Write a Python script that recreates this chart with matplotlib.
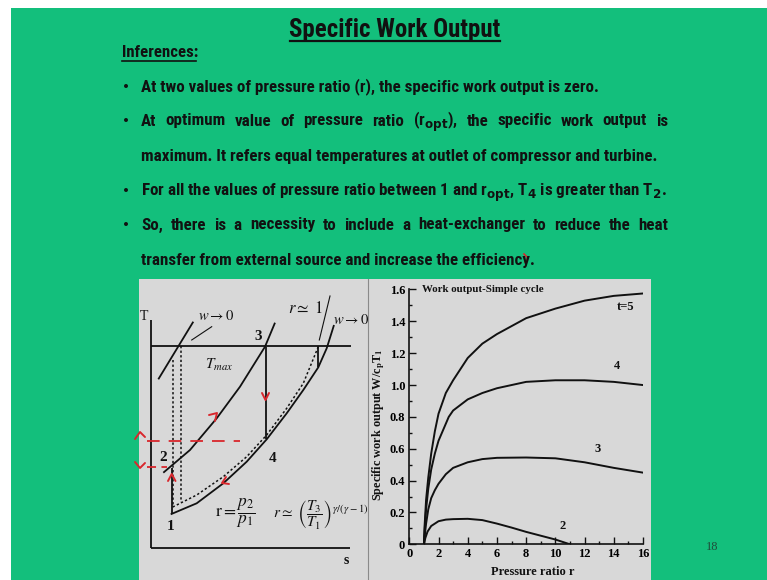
import matplotlib
matplotlib.use("Agg")
import matplotlib.pyplot as plt
from matplotlib.patches import Rectangle
from matplotlib.ticker import MultipleLocator, FixedLocator, FixedFormatter

GREEN = "#13bf7c"
PANEL = "#d8d8d8"
INK = "#111111"
RED = "#d9262c"
# narrow faces first; whichever is installed gets used
SANS = ["Liberation Sans Narrow", "Roboto Condensed", "Open Sans Condensed",
        "Noto Sans Condensed", "DejaVu Sans Condensed", "Liberation Sans", "DejaVu Sans"]
SERIF = ["Liberation Serif", "DejaVu Serif"]

# ---- slide text ----
title = "Specific Work Output"
heading = "Inferences:"
line_texts = [
    "At two values of pressure ratio (r), the specific work output is zero.",
    "At optimum value of pressure ratio (r$_{\\mathbf{opt}}$), the specific work output is",
    "maximum. It refers equal temperatures at outlet of compressor and turbine.",
    "For all the values of pressure ratio between 1 and r$_{\\mathbf{opt}}$, T$_\\mathbf{4}$ is greater than T$_\\mathbf{2}$.",
    "So, there is a necessity to include a heat-exchanger to reduce the heat",
    "transfer from external source and increase the efficiency.",
]
line_bullet = [True, True, False, True, True, False]
line_justify = [False, True, False, False, True, False]
page_no = "18"

# ---- work output vs pressure ratio, one series per temperature ratio t ----
r_t5 = [1.0, 1.05, 1.15, 1.3, 1.5, 1.75, 2, 2.5, 3, 4, 5, 6, 8, 10, 12, 14, 16]
w_t5 = [0, 0.12, 0.28, 0.42, 0.57, 0.71, 0.82, 0.95, 1.03, 1.17, 1.26, 1.32, 1.42, 1.48, 1.53, 1.56, 1.575]
r_t4 = [1.0, 1.05, 1.15, 1.3, 1.5, 1.75, 2, 2.7, 3, 4, 5, 6, 8, 10, 12, 14, 16]
w_t4 = [0, 0.09, 0.22, 0.35, 0.47, 0.57, 0.65, 0.80, 0.84, 0.91, 0.95, 0.98, 1.02, 1.03, 1.03, 1.02, 1.0]
r_t3 = [1.0, 1.05, 1.15, 1.3, 1.5, 1.75, 2, 2.5, 3, 4, 5, 6, 8, 10, 12, 14, 16]
w_t3 = [0, 0.05, 0.13, 0.22, 0.29, 0.34, 0.38, 0.44, 0.48, 0.515, 0.535, 0.543, 0.545, 0.54, 0.515, 0.48, 0.45]
r_t2 = [1.0, 1.1, 1.25, 1.5, 2, 2.5, 3, 4, 5, 6, 7, 8, 9, 10, 11]
w_t2 = [0, 0.04, 0.08, 0.115, 0.145, 0.155, 0.158, 0.16, 0.152, 0.13, 0.105, 0.078, 0.054, 0.03, 0.0]
curve_labels = ["t=5", "4", "3", "2"]
label_r = [14.8, 14.2, 12.9, 10.5]
label_w = [1.49, 1.12, 0.60, 0.115]
y_ticks = [0, 0.2, 0.4, 0.6, 0.8, 1.0, 1.2, 1.4, 1.6]
y_ticklabels = ["0", "0.2", "0.4", "0.6", "0.8", "1.0", "1.2", "1.4", "1.6"]

# ---- T-s sketch, in slide pixel units ----
iso_hi_s = [163.3, 190.0, 216.7, 240.0, 265.0, 275.0]
iso_hi_T = [472.7, 450.0, 418.3, 386.7, 346.7, 322.7]
iso_lo_s = [170.7, 196.7, 223.3, 246.7, 266.7, 286.7, 303.3, 318.3, 326.7, 334.0]
iso_lo_T = [514.3, 503.3, 483.3, 461.7, 439.3, 413.3, 390.0, 367.3, 348.3, 325.0]
iso_dot_s = [172.7, 196.7, 223.3, 246.7, 266.7, 286.7, 303.3, 318.3]
iso_dot_T = [507.0, 495.0, 476.7, 456.7, 435.0, 408.3, 383.3, 346.7]
iso_w0_s = [158.3, 193.3]
iso_w0_T = [379.3, 321.7]

fig = plt.figure(figsize=(7.67, 5.8), dpi=100)
bg = fig.add_axes([0, 0, 1, 1])
bg.set_xlim(0, 767)
bg.set_ylim(580, 0)
bg.axis("off")
renderer = fig.canvas.get_renderer()

bg.add_patch(Rectangle((10.5, 8), 757, 572, color=GREEN, lw=0))
bg.add_patch(Rectangle((139, 279), 512, 301, color=PANEL, lw=0))
bg.plot([368, 368], [279, 580], color="#8a8a8a", lw=0.8)

sans = dict(family=SANS, weight="bold", stretch="condensed", color=INK)


def width_of(s, size, **kw):
    t = bg.text(0, 0, s, fontsize=size, **kw)
    w = t.get_window_extent(renderer).width
    t.remove()
    return w


# title and heading, underlined
tsize = 20 * 210 / width_of(title, 20, **sans)
bg.text(395, 37, title, fontsize=tsize, ha="center", va="baseline", **sans)
bg.plot([290, 500], [41, 41], color=INK, lw=1.6)
hsize = 20 * 76 / width_of(heading, 20, **sans)
bg.text(122, 57, heading, fontsize=hsize, va="baseline", **sans)
bg.plot([122, 196], [60.5, 60.5], color=INK, lw=1.2)

# bullet lines
bsize = 20 * 457 / width_of(line_texts[0], 20, **sans)
baselines = [91.5, 125.5, 161.5, 195.5, 229.5, 264.5]
x0, x1 = 141, 668
for s, has_dot, just, yb in zip(line_texts, line_bullet, line_justify, baselines):
    if has_dot:
        bg.text(126, yb - 5, "\u2022", fontsize=bsize * 0.8, family="DejaVu Sans",
                color=INK, va="center", ha="center")
    if not just:
        bg.text(x0, yb, s, fontsize=bsize, va="baseline", **sans)
        continue
    words = s.split(" ")
    texts = [bg.text(0, yb, w, fontsize=bsize, va="baseline", **sans) for w in words]
    widths = [t.get_window_extent(renderer).width for t in texts]
    gap = ((x1 - x0) - sum(widths)) / (len(words) - 1)
    x = x0
    for t, w in zip(texts, widths):
        t.set_x(x)
        x += w + gap

# pen mark after "efficiency"
bg.plot([524, 528, 525], [254, 258, 262], color=RED, lw=1.2)

bg.text(712, 547, page_no, fontsize=9, family=SERIF, color="#1f4d3a",
        ha="center", va="center")

# ---- T-s diagram ----
k = dict(color=INK, lw=1.3, solid_capstyle="butt")
dotted = dict(color=INK, lw=1.1, ls=(0, (1.5, 1.5)))
bg.plot([150.7, 150.7], [320, 547.7], **k)
bg.plot([150.7, 350], [547.7, 547.7], **k)
bg.plot([150.7, 350.7], [345.7, 345.7], **k)
bg.plot(iso_hi_s, iso_hi_T, **k)
bg.plot(iso_lo_s, iso_lo_T, **k)
bg.plot(iso_w0_s, iso_w0_T, **k)
bg.plot(iso_dot_s, iso_dot_T, **dotted)
bg.plot([171.7, 171.7], [467.5, 514.0], **k)
bg.plot([265.5, 265.5], [346.7, 439.3], **k)
bg.plot([318.3, 318.3], [345.7, 367.3], **k)
bg.plot([172.7, 172.7], [360, 507], **dotted)
bg.plot([180.7, 180.7], [345.7, 501.7], **dotted)
bg.plot([191.7, 211.7], [340, 326.7], color=INK, lw=0.8)
bg.plot([319.3, 330], [340, 296], color=INK, lw=0.8)

m = dict(math_fontfamily="stix", color=INK, ha="center", va="center")
bg.text(143.5, 316, "T", fontsize=10, family=SERIF, color=INK, ha="center", va="center")
bg.text(346.5, 561, "s", fontsize=10, family=SERIF, weight="bold", color=INK,
        ha="center", va="center")
bg.text(216.5, 316, "$w \\rightarrow 0$", fontsize=10.5, **m)
bg.text(351, 319.5, "$w \\rightarrow 0$", fontsize=10.5, **m)
bg.text(306, 308, "$r \\simeq\\ 1$", fontsize=12, **m)
bg.text(219, 365, "$T_{max}$", fontsize=11, **m)
for lab, sx, ty in zip(["1", "2", "3", "4"], [171, 162.7, 258.3, 272.7],
                       [527, 457.3, 336.7, 458.3]):
    bg.text(sx, ty, lab, fontsize=11, family=SERIF, weight="bold", color=INK,
            ha="center", va="center")
bg.text(235, 513, "$\\mathrm{r} = \\dfrac{p_2}{p_1}$", fontsize=12.5, **m)
bg.text(321, 516, "$r \\simeq\\ \\left(\\dfrac{T_3}{T_1}\\right)^{\\gamma/(\\gamma-1)}$",
        fontsize=11, **m)

# red pen annotations
rk = dict(color=RED, lw=1.4, solid_capstyle="round")
bg.plot([146.7, 240], [441.2, 441.2], color=RED, lw=1.3, ls=(0, (7, 5)))
bg.plot([146.7, 167], [467, 467], color=RED, lw=1.3, ls=(0, (5, 3)))
chevrons = [
    ([135, 140, 145], [439, 432, 437]),
    ([135, 140, 145], [462, 468, 463]),
    ([168, 171.7, 175.5], [481, 474, 481]),
    ([262, 265.5, 269], [393, 400, 393]),
    ([209, 217, 215], [415, 413, 421]),
    ([229, 222, 226], [484, 483, 477]),
]
for cx, cy in chevrons:
    bg.plot(cx, cy, **rk)

# ---- work output chart ----
ax = fig.add_axes([409.3 / 767, (580 - 544.3) / 580, 233.7 / 767, 254.8 / 580])
ax.patch.set_visible(False)
for rr, ww in [(r_t5, w_t5), (r_t4, w_t4), (r_t3, w_t3), (r_t2, w_t2)]:
    ax.plot(rr, ww, color=INK, lw=1.4)
for lab, lr, lw_ in zip(curve_labels, label_r, label_w):
    ax.text(lr, lw_, lab, fontsize=9, family=SERIF, weight="bold",
            color=INK, ha="center", va="center")
ax.set_xlim(0, 16)
ax.set_ylim(0, 1.6)
for side in ["top", "right"]:
    ax.spines[side].set_visible(False)
for side in ["left", "bottom"]:
    ax.spines[side].set_linewidth(1.2)
    ax.spines[side].set_color(INK)
ax.xaxis.set_major_locator(MultipleLocator(2))
ax.xaxis.set_minor_locator(MultipleLocator(1))
ax.yaxis.set_major_locator(FixedLocator(y_ticks))
ax.yaxis.set_major_formatter(FixedFormatter(y_ticklabels))
ax.yaxis.set_minor_locator(MultipleLocator(0.1))
ax.tick_params(which="both", direction="in", color=INK, width=1.0)
ax.tick_params(which="major", length=5, pad=3, labelsize=9)
ax.tick_params(which="minor", length=2.5)
for lab in ax.get_xticklabels() + ax.get_yticklabels():
    lab.set_family(SERIF)
    lab.set_fontweight("bold")
ax.text(0.9, 1.6, "Work output-Simple cycle", fontsize=7.8, family=SERIF,
        weight="bold", color=INK, ha="left", va="center")
ax.text(-0.132, 0.468, "Specific work output W/c$_\\mathbf{p}$T$_\\mathbf{1}$",
        transform=ax.transAxes, rotation=90, fontsize=8.8, family=SERIF,
        weight="bold", math_fontfamily="stix", color=INK, ha="center", va="center")
ax.text(0.529, -0.109, "Pressure ratio r", transform=ax.transAxes, fontsize=9,
        family=SERIF, weight="bold", color=INK, ha="center", va="center")

fig.savefig("out.png", dpi=100, facecolor="white")
